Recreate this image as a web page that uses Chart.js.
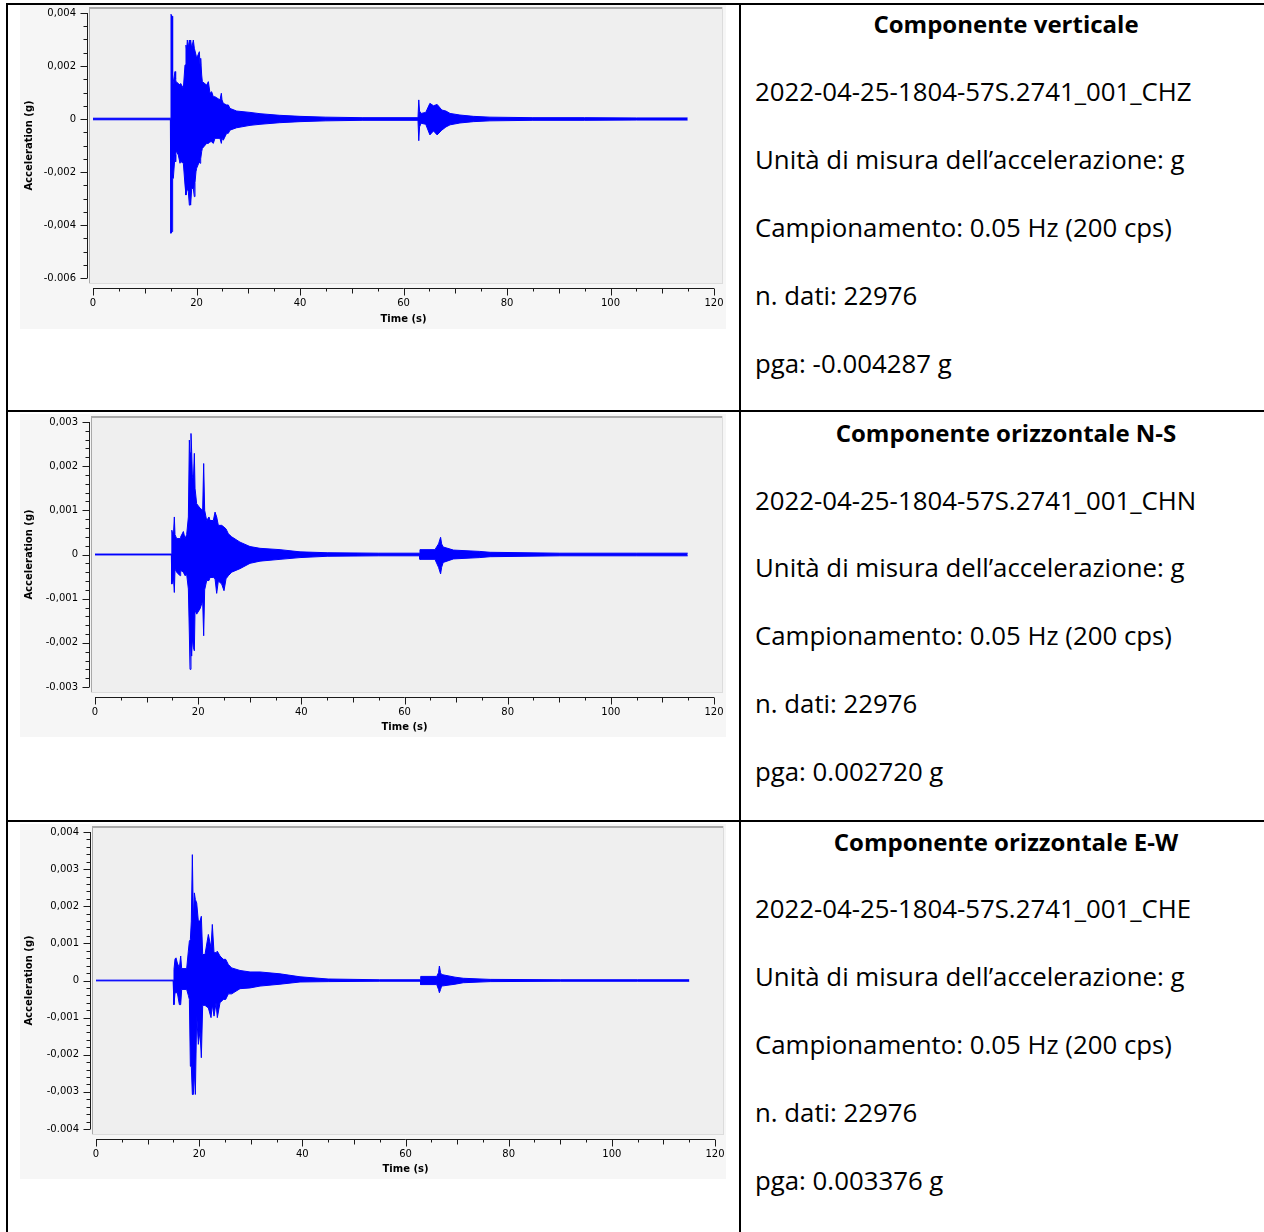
<!DOCTYPE html>
<html>
<head>
<meta charset="utf-8"/>
<title>Accelerogramma 2022-04-25</title>
<script src="https://cdn.jsdelivr.net/npm/chart.js@4.4.1/dist/chart.umd.min.js"></script>
<style>
    body { margin: 0; background: #fff; width: 1264px; height: 1232px; overflow: hidden; position: relative; font-family: "Open Sans", Lato, sans-serif; }
    .hline { position: absolute; left: 6px; right: 0; height: 2px; background: #000; }
    .vline { position: absolute; top: 3px; bottom: 0; width: 2px; background: #000; }
    canvas.trace { position: absolute; left: 20px; }
    .info { position: absolute; left: 755px; font-size: 25.8px; color: #000; white-space: nowrap; transform: translateY(-50%); }
    .info.title { left: 741px; width: 530px; text-align: center; font-weight: bold; font-size: 24px; }
</style>
<script>
    // ---- data: envelope (max / min) of each trace, time in s, acceleration in g ----
    const chzTime = [0, 14.95, 15.07, 15.27, 15.39, 15.52, 15.85, 15.97, 16.04, 16.49, 16.81, 16.94, 17.46, 17.78, 17.97, 18.10, 18.23, 18.42, 18.62, 18.74,
        18.87, 19.07, 19.39, 19.58, 19.71, 19.90, 20.03, 20.55, 20.68, 20.81, 21.00, 21.13, 21.96, 22.29, 22.61, 22.93, 23.25, 23.57, 24.54, 24.80,
        24.93, 25.18, 25.83, 26.15, 26.47, 27.76, 30.34, 32.27, 36.0, 40.0, 45.0, 52.0, 62.8, 62.95, 63.1, 63.4, 64.3, 65.1, 65.8, 66.5,
        67.4, 68.2, 69.0, 70.9, 73.5, 76.7, 85.0, 95.0, 105.0, 114.9];
    const chzUp = [0.00003, 0.00003, 0.00395, 0.00388, 0.00120, 0.00140, 0.00179, 0.00150, 0.00141, 0.00134, 0.00128, 0.00134, 0.00116, 0.00204, 0.00279, 0.00260, 0.00298, 0.00270, 0.00298, 0.00280,
        0.00298, 0.00267, 0.00298, 0.00267, 0.00267, 0.00242, 0.00229, 0.00254, 0.00204, 0.00229, 0.00166, 0.00141, 0.00128, 0.00141, 0.00097, 0.00103, 0.00084, 0.00084, 0.00072, 0.00097,
        0.00072, 0.00059, 0.00053, 0.00053, 0.00040, 0.00030, 0.00025, 0.00020, 0.00014, 0.00010, 0.00007, 0.00005, 0.00005, 0.00072, 0.00030, 0.00021, 0.00025, 0.00059, 0.00050, 0.00055,
        0.00034, 0.00030, 0.00021, 0.00015, 0.00010, 0.00007, 0.00005, 0.00005, 0.00004, 0.00004];
    const chzDown = [-0.00003, -0.00003, -0.00431, -0.00425, -0.00224, -0.00224, -0.00136, -0.00161, -0.00120, -0.00136, -0.00167, -0.00160, -0.00167, -0.00249, -0.00287, -0.00274, -0.00262, -0.00274, -0.00325, -0.00290,
        -0.00325, -0.00262, -0.00262, -0.00293, -0.00240, -0.00199, -0.00186, -0.00161, -0.00167, -0.00150, -0.00123, -0.00111, -0.00092, -0.00092, -0.00086, -0.00086, -0.00092, -0.00073, -0.00073, -0.00092,
        -0.00073, -0.00080, -0.00054, -0.00054, -0.00042, -0.00033, -0.00024, -0.00020, -0.00014, -0.00010, -0.00007, -0.00005, -0.00005, -0.00082, -0.00030, -0.00016, -0.00020, -0.00060, -0.00045, -0.00060,
        -0.00042, -0.00030, -0.00022, -0.00015, -0.00010, -0.00007, -0.00005, -0.00005, -0.00004, -0.00004];

    const chnTime = [0, 14.80, 14.90, 15.19, 15.38, 15.51, 15.83, 16.48, 16.61, 17.13, 17.45, 17.77, 18.10, 18.29, 18.42, 18.61, 18.74, 18.87, 19.07, 19.26,
        19.39, 19.71, 20.36, 20.87, 21.07, 21.26, 21.65, 22.10, 22.30, 22.94, 23.27, 23.59, 23.91, 24.56, 25.01, 25.40, 25.85, 26.50, 28.11, 30.05,
        31.99, 35.87, 39.75, 45.0, 55.0, 62.9, 63.0, 65.9, 66.6, 67.0, 67.2, 67.5, 69.5, 74.6, 76.6, 90.0, 105.0, 114.9];
    const chnUp = [0.00001, 0.00001, 0.00055, 0.00040, 0.00085, 0.00045, 0.00036, 0.00036, 0.00040, 0.00052, 0.00036, 0.00045, 0.00085, 0.00259, 0.00230, 0.00274, 0.00233, 0.00180, 0.00168, 0.00229,
        0.00150, 0.00115, 0.00105, 0.00100, 0.00206, 0.00100, 0.00077, 0.00085, 0.00077, 0.00077, 0.00096, 0.00085, 0.00066, 0.00066, 0.00062, 0.00058, 0.00047, 0.00040, 0.00028, 0.00018,
        0.00014, 0.00011, 0.00006, 0.00004, 0.00003, 0.00003, 0.00011, 0.00011, 0.00024, 0.00039, 0.00024, 0.00017, 0.00010, 0.00007, 0.00005, 0.00003, 0.00003, 0.00003];
    const chnDown = [-0.00001, -0.00001, -0.00067, -0.00050, -0.00086, -0.00033, -0.00040, -0.00048, -0.00036, -0.00040, -0.00048, -0.00045, -0.00078, -0.00180, -0.00260, -0.00200, -0.00230, -0.00190, -0.00210, -0.00218,
        -0.00126, -0.00135, -0.00123, -0.00105, -0.00184, -0.00080, -0.00059, -0.00059, -0.00052, -0.00052, -0.00055, -0.00088, -0.00060, -0.00067, -0.00082, -0.00055, -0.00048, -0.00040, -0.00032, -0.00020,
        -0.00015, -0.00011, -0.00007, -0.00004, -0.00003, -0.00003, -0.00011, -0.00011, -0.00029, -0.00044, -0.00029, -0.00018, -0.00010, -0.00007, -0.00005, -0.00003, -0.00003, -0.00003];

    const cheTime = [0, 14.95, 15.12, 15.32, 15.51, 15.77, 16.16, 16.42, 16.61, 17.58, 17.90, 18.10, 18.29, 18.48, 18.68, 18.87, 19.07, 19.26, 19.52, 19.84,
        20.16, 20.42, 20.68, 21.13, 21.78, 22.30, 22.55, 22.88, 23.27, 23.52, 24.04, 24.69, 25.14, 25.66, 26.30, 27.92, 29.86, 31.80, 35.67, 39.55,
        45.0, 55.0, 62.9, 62.95, 66.05, 66.4, 66.57, 66.8, 67.0, 69.6, 71.2, 76.4, 90.0, 105.0, 115.0];
    const cheUp = [0.00001, 0.00001, 0.00030, 0.00058, 0.00061, 0.00047, 0.00034, 0.00066, 0.00032, 0.00032, 0.00079, 0.00106, 0.00110, 0.00160, 0.00339, 0.00164, 0.00236, 0.00218, 0.00209, 0.00160,
        0.00160, 0.00173, 0.00070, 0.00070, 0.00124, 0.00088, 0.00151, 0.00075, 0.00075, 0.00079, 0.00066, 0.00057, 0.00057, 0.00043, 0.00034, 0.00027, 0.00023, 0.00023, 0.00018, 0.00010,
        0.00004, 0.00002, 0.00002, 0.00011, 0.00011, 0.00021, 0.00039, 0.00021, 0.00016, 0.00009, 0.00006, 0.00003, 0.00002, 0.00002, 0.00002];
    const cheDown = [-0.00001, -0.00001, -0.00065, -0.00033, -0.00033, -0.00033, -0.00065, -0.00065, -0.00024, -0.00024, -0.00040, -0.00051, -0.00231, -0.00231, -0.00307, -0.00307, -0.00244, -0.00307, -0.00092, -0.00172,
        -0.00136, -0.00208, -0.00067, -0.00067, -0.00074, -0.00100, -0.00065, -0.00096, -0.00060, -0.00100, -0.00060, -0.00051, -0.00051, -0.00036, -0.00036, -0.00022, -0.00020, -0.00015, -0.00010, -0.00004,
        -0.00003, -0.00002, -0.00002, -0.00011, -0.00011, -0.00024, -0.00033, -0.00024, -0.00015, -0.00010, -0.00006, -0.00003, -0.00002, -0.00002, -0.00002];

    // axis ranges: [min, max, label step, minor step]
    const chzAxis = [-0.006, 0.004, 0.002, 0.0005];
    const chnAxis = [-0.003, 0.003, 0.001, 0.0002];
    const cheAxis = [-0.004, 0.004, 0.001, 0.0002];
    const timeAxis = [0, 120, 20, 5];

    const traceBlue = '#0000ff';
    const tickFont = { family: 'DejaVu Sans', size: 10 };
    const titleFont = { family: 'DejaVu Sans', size: 10, weight: 'bold' };
    const clear = 'rgba(0,0,0,0)';

    // "0,004" style, the lowest label keeps the dot as in the original plot
    function accLabel(v, min) {
        if (Math.abs(v) < 1e-9) return '0';
        const s = v.toFixed(3);
        return Math.abs(v - min) < 1e-9 ? s : s.replace('.', ',');
    }

    // background panel, plot frame and the detached axis lines with ticks
    const framePlugin = {
        id: 'frame',
        beforeDraw(chart) {
            const { ctx, chartArea: a, width, height } = chart;
            ctx.save();
            ctx.fillStyle = '#f6f6f6';
            ctx.fillRect(0, 0, width, height);
            const L = a.left - 4, T = a.top - 6, R = a.right + 9, B = a.bottom + 6;
            ctx.fillStyle = '#efefef';
            ctx.fillRect(L, T, R - L, B - T);
            ctx.fillStyle = '#a9a9a9';
            ctx.fillRect(L, T, R - L, 2);
            ctx.fillRect(L, T, 1, B - T);
            ctx.fillStyle = '#dcdcdc';
            ctx.fillRect(R - 1, T, 1, B - T);
            ctx.fillRect(L, B - 1, R - L, 1);
            ctx.restore();
        },
        afterDraw(chart, args, opts) {
            const { ctx, chartArea: a, scales } = chart;
            const x = scales.x, y = scales.y;
            ctx.save();
            ctx.strokeStyle = '#1a1a1a';
            ctx.lineWidth = 1;
            ctx.beginPath();
            // y axis
            const ax = Math.round(a.left - 6) + 0.5;
            ctx.moveTo(ax, a.top);
            ctx.lineTo(ax, a.bottom);
            const ny = Math.round((y.max - y.min) / opts.yMinor);
            for (let i = 0; i <= ny; i++) {
                const v = y.min + i * opts.yMinor;
                const r = v / opts.yMajor;
                const len = Math.abs(r - Math.round(r)) < 1e-6 ? 7 : 4;
                const py = Math.round(y.getPixelForValue(v)) + 0.5;
                ctx.moveTo(ax - len, py);
                ctx.lineTo(ax, py);
            }
            // x axis
            const ay = Math.round(a.bottom + 10) + 0.5;
            ctx.moveTo(a.left, ay);
            ctx.lineTo(a.right, ay);
            for (let t = timeAxis[0]; t <= timeAxis[1]; t += timeAxis[3]) {
                const len = t % timeAxis[2] === 0 ? 7 : (t % 10 === 0 ? 5 : 3);
                const px = Math.round(x.getPixelForValue(t)) + 0.5;
                ctx.moveTo(px, ay);
                ctx.lineTo(px, ay + len);
            }
            ctx.stroke();
            ctx.restore();
        }
    };

    function makeTrace(id, box, area, axis, time, up, down) {
        const canvas = document.getElementById(id);
        canvas.width = box.w;
        canvas.height = box.h;
        canvas.style.top = box.top + 'px';
        const upper = time.map((t, i) => ({ x: t, y: up[i] }));
        const lower = time.map((t, i) => ({ x: t, y: down[i] }));
        return new Chart(canvas, {
            type: 'line',
            data: {
                datasets: [
                    { data: upper, borderColor: traceBlue, backgroundColor: traceBlue, borderWidth: 1, pointRadius: 0, tension: 0, fill: '+1' },
                    { data: lower, borderColor: traceBlue, backgroundColor: traceBlue, borderWidth: 1, pointRadius: 0, tension: 0, fill: false },
                ],
            },
            options: {
                responsive: false,
                animation: false,
                events: [],
                layout: { padding: { left: 0, bottom: 0, top: area.top - box.top, right: 20 + box.w - area.right } },
                plugins: {
                    legend: { display: false },
                    tooltip: { enabled: false },
                    frame: { yMajor: axis[2], yMinor: axis[3] },
                },
                scales: {
                    x: {
                        type: 'linear', min: timeAxis[0], max: timeAxis[1],
                        // invisible tick marks only push the labels down
                        grid: { drawOnChartArea: false, drawTicks: true, tickLength: 19, color: clear, tickColor: clear },
                        border: { display: false },
                        ticks: { stepSize: timeAxis[2], padding: 0, font: tickFont, color: '#000', maxRotation: 0, autoSkip: false },
                        title: { display: true, text: 'Time (s)', color: '#000', font: titleFont, padding: { top: 0, bottom: 4 } },
                        afterFit: (s) => { s.height = box.top + box.h - area.bottom; },
                    },
                    y: {
                        type: 'linear', min: axis[0], max: axis[1],
                        grid: { drawOnChartArea: false, drawTicks: true, tickLength: 17, color: clear, tickColor: clear },
                        border: { display: false },
                        ticks: { stepSize: axis[2], padding: 0, font: tickFont, color: '#000', callback: (v) => accLabel(v, axis[0]) },
                        title: { display: true, text: 'Acceleration (g)', color: '#000', font: titleFont, padding: { top: 3, bottom: 0 } },
                        afterFit: (s) => { s.width = area.left - 20; },
                    },
                },
            },
            plugins: [framePlugin],
        });
    }

    function onStart() {
        makeTrace('chz', { top: 5, w: 706, h: 324 }, { left: 93, right: 714, top: 13, bottom: 278 }, chzAxis, chzTime, chzUp, chzDown);
        makeTrace('chn', { top: 414, w: 706, h: 323 }, { left: 95, right: 714, top: 422, bottom: 687 }, chnAxis, chnTime, chnUp, chnDown);
        makeTrace('che', { top: 824, w: 706, h: 355 }, { left: 96, right: 715, top: 832, bottom: 1129 }, cheAxis, cheTime, cheUp, cheDown);
    }
</script>
</head>
<body onload="onStart();">
<!-- table borders -->
<div class="hline" style="top:3px;"></div>
<div class="hline" style="top:410px;"></div>
<div class="hline" style="top:820px;"></div>
<div class="vline" style="left:6px;"></div>
<div class="vline" style="left:739px;"></div>

<canvas id="chz" class="trace"></canvas>
<canvas id="chn" class="trace"></canvas>
<canvas id="che" class="trace"></canvas>

<div class="info title" style="top:23px;">Componente verticale</div>
<div class="info" style="top:91px;">2022-04-25-1804-57S.2741_001_CHZ</div>
<div class="info" style="top:159px;">Unità di misura dell’accelerazione: g</div>
<div class="info" style="top:227px;">Campionamento: 0.05 Hz (200 cps)</div>
<div class="info" style="top:295px;">n. dati: 22976</div>
<div class="info" style="top:363px;">pga: -0.004287 g</div>

<div class="info title" style="top:432px;">Componente orizzontale N-S</div>
<div class="info" style="top:500px;">2022-04-25-1804-57S.2741_001_CHN</div>
<div class="info" style="top:567px;">Unità di misura dell’accelerazione: g</div>
<div class="info" style="top:635px;">Campionamento: 0.05 Hz (200 cps)</div>
<div class="info" style="top:703px;">n. dati: 22976</div>
<div class="info" style="top:771px;">pga: 0.002720 g</div>

<div class="info title" style="top:841px;">Componente orizzontale E-W</div>
<div class="info" style="top:908px;">2022-04-25-1804-57S.2741_001_CHE</div>
<div class="info" style="top:976px;">Unità di misura dell’accelerazione: g</div>
<div class="info" style="top:1044px;">Campionamento: 0.05 Hz (200 cps)</div>
<div class="info" style="top:1112px;">n. dati: 22976</div>
<div class="info" style="top:1180px;">pga: 0.003376 g</div>
</body>
</html>
